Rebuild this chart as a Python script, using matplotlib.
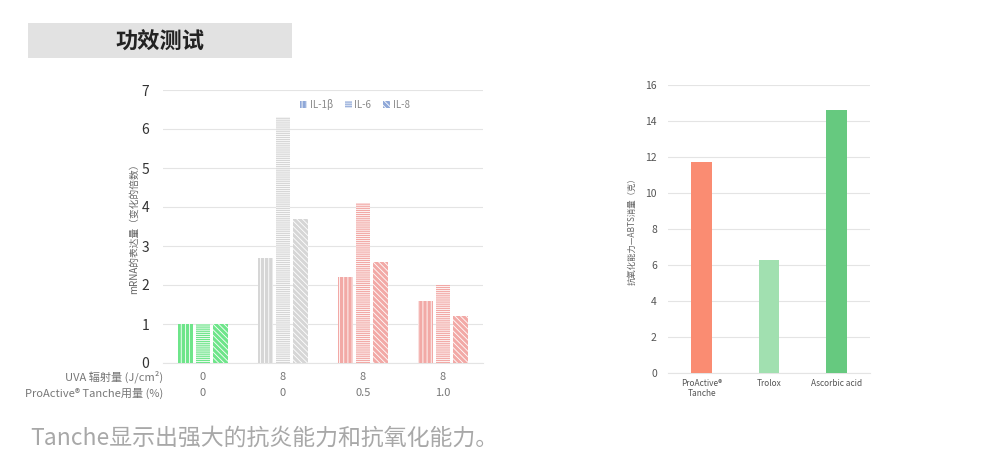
import matplotlib
matplotlib.use("Agg")
import matplotlib.pyplot as plt
import matplotlib.patches as mpatches
import matplotlib.transforms as mtransforms
import numpy as np

plt.rcParams['font.family'] = ['Noto Sans CJK SC', 'DejaVu Sans']

# ---- data ----
series_names = ["IL-1β", "IL-6", "IL-8"]
il1b = [1.0, 2.7, 2.2, 1.6]
il6 = [1.0, 6.3, 4.1, 2.0]
il8 = [1.0, 3.7, 2.6, 1.2]
uva_labels = ["0", "8", "8", "8"]
dose_labels = ["0", "0", "0.5", "1.0"]
left_yticks = [0, 1, 2, 3, 4, 5, 6, 7]

anti_cats = ["ProActive®\nTanche", "Trolox", "Ascorbic acid"]
anti_vals = [11.7, 6.3, 14.6]
right_yticks = [0, 2, 4, 6, 8, 10, 12, 14, 16]

# ---- styles ----
group_colors = ["#6ee58a", "#d6d6d6", "#f2a9a6", "#f2a9a6"]
hatches = ["||||", "--------", "\\\\\\\\\\\\"]
anti_colors = ["#fa8c72", "#a1e0b0", "#66c97f"]
grid_c = "#e4e4e4"

fig = plt.figure(figsize=(10, 4.74), dpi=100)

# Title box
fig.patches.append(mpatches.Rectangle((0.028, 1 - 58 / 474), 0.264, 35 / 474,
                                      transform=fig.transFigure, facecolor="#e2e2e2",
                                      edgecolor="none", zorder=0))
fig.text(0.160, 1 - 42 / 474, "功效测试", ha="center", va="center",
         fontsize=16, fontweight="bold", color="#222222")

# ---- left chart ----
axL = fig.add_axes([0.163, 1 - 363 / 474, 0.320, (363 - 90) / 474])
x = np.arange(len(il1b))
w = 0.185
off = 0.215
plt.rcParams['hatch.linewidth'] = 0.6
for i, vals in enumerate([il1b, il6, il8]):
    for j in range(len(x)):
        axL.bar(x[j] + (i - 1) * off, vals[j], width=w, color=group_colors[j],
                edgecolor="white", linewidth=0, hatch=hatches[i], zorder=3)
axL.set_xlim(-0.5, 3.5)
axL.set_ylim(0, 7)
axL.set_yticks(left_yticks)
axL.yaxis.grid(True, color=grid_c, linewidth=0.8, zorder=0)
for s in ["top", "right", "left"]:
    axL.spines[s].set_visible(False)
axL.spines["bottom"].set_color(grid_c)
axL.tick_params(axis="y", length=0, labelsize=10, labelcolor="#333333", pad=10)
axL.tick_params(axis="x", length=0, labelbottom=False)
axL.set_ylabel("mRNA的表达量（变化的倍数）", fontsize=7, color="#666666", labelpad=2)

trans = mtransforms.blended_transform_factory(axL.transData, fig.transFigure)
for j in range(len(x)):
    axL.text(x[j], 1 - 377 / 474, uva_labels[j], transform=trans, ha="center",
             va="center", fontsize=8, color="#777777")
    axL.text(x[j], 1 - 393 / 474, dose_labels[j], transform=trans, ha="center",
             va="center", fontsize=8, color="#777777")
fig.text(0.163, 1 - 377 / 474, "UVA 辐射量 (J/cm²)", ha="right", va="center",
         fontsize=8, color="#777777")
fig.text(0.163, 1 - 393 / 474, "ProActive® Tanche用量 (%)", ha="right", va="center",
         fontsize=8, color="#777777")

handles = [mpatches.Patch(facecolor="#8fa8d8", edgecolor="white", linewidth=0,
                          hatch=hatches[i], label=series_names[i]) for i in range(3)]
axL.legend(handles=handles, loc="upper center", bbox_to_anchor=(0.6, 1.0), ncol=3,
           frameon=False, fontsize=7, labelcolor="#888888", handlelength=0.7,
           handleheight=0.7, handletextpad=0.3, columnspacing=1.2)

# ---- right chart ----
axR = fig.add_axes([0.668, 1 - 373 / 474, 0.202, (373 - 85) / 474])
xr = np.arange(len(anti_vals))
axR.bar(xr, anti_vals, width=0.31, color=anti_colors, zorder=3)
axR.set_xlim(-0.5, 2.5)
axR.set_ylim(0, 16)
axR.set_yticks(right_yticks)
axR.set_xticks(xr)
axR.set_xticklabels(anti_cats)
axR.yaxis.grid(True, color=grid_c, linewidth=0.8, zorder=0)
for s in ["top", "right", "left"]:
    axR.spines[s].set_visible(False)
axR.spines["bottom"].set_color(grid_c)
axR.tick_params(axis="y", length=0, labelsize=7.5, labelcolor="#555555", pad=8)
axR.tick_params(axis="x", length=0, labelsize=6, labelcolor="#555555", pad=4)
axR.set_ylabel("抗氧化能力—ABTS消量（克）", fontsize=6, color="#666666", labelpad=6)

# bottom caption
fig.text(0.030, 1 - 438 / 474, "Tanche显示出强大的抗炎能力和抗氧化能力。",
         ha="left", va="center", fontsize=16.5, color="#a8a8a8")

fig.savefig("out.png", dpi=100)
